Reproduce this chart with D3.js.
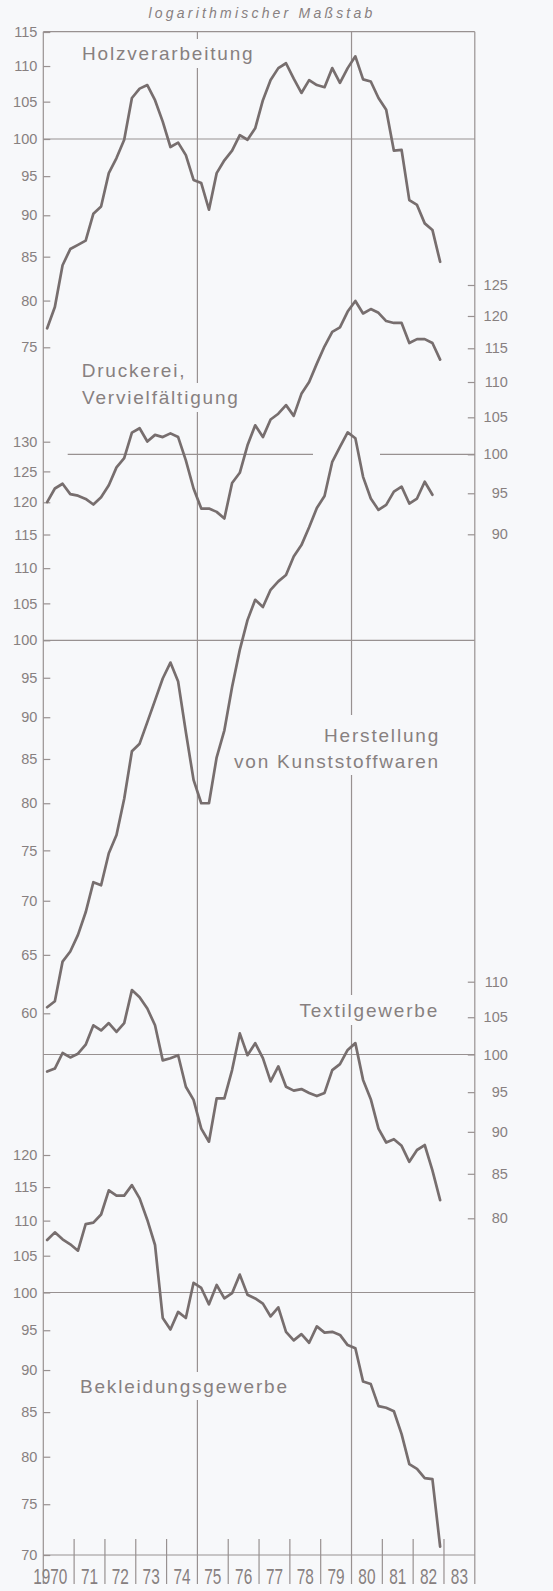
<!DOCTYPE html>
<html><head><meta charset="utf-8">
<script src="https://cdn.jsdelivr.net/npm/d3@7"></script>
<style>
html,body{margin:0;padding:0;background:#f7f8fa;}
svg{display:block;}
</style></head><body>
<svg id="c" width="553" height="1591"></svg>
<script>
// ---- data (quarterly, 1970 Q1 .. 1982 Q4) ----
const startYear = 1970;
const holz = [77.0,79.3,84.0,85.9,86.4,86.9,90.2,91.1,95.4,97.4,99.9,105.5,106.8,107.3,105.2,102.3,98.9,99.5,97.8,94.5,94.1,90.7,95.4,97.1,98.4,100.5,99.9,101.4,105.2,108.0,109.7,110.4,108.2,106.2,108.0,107.3,107.0,109.7,107.6,109.7,111.4,108.1,107.8,105.5,103.9,98.4,98.5,91.9,91.3,89.0,88.2,84.4];
const druck = [93.9,95.6,96.2,94.9,94.7,94.3,93.6,94.5,96.0,98.3,99.5,102.9,103.5,101.7,102.6,102.3,102.8,102.3,99.2,95.6,93.1,93.1,92.7,91.9,96.3,97.6,101.2,103.9,102.3,104.7,105.5,106.7,105.2,108.3,110.0,112.7,115.3,117.5,118.2,120.7,122.4,120.4,121.1,120.5,119.2,118.9,118.9,115.8,116.4,116.4,115.8,113.3];
const kunst = [60.5,61.0,64.4,65.3,66.8,68.9,71.8,71.5,74.7,76.6,80.5,85.9,86.8,89.4,92.1,94.9,97.0,94.5,88.2,82.6,80.0,80.0,85.2,88.4,93.8,98.7,102.7,105.5,104.5,106.9,108.1,109.0,111.7,113.4,116.1,119.1,121.0,126.6,129.1,131.6,130.6,124.1,120.6,118.8,119.6,121.7,122.5,119.8,120.6,123.3,121.2];
const textil = [97.7,98.1,100.2,99.6,100.1,101.3,103.9,103.2,104.2,103.0,104.2,108.8,107.8,106.2,103.9,99.2,99.5,99.9,95.7,94.0,90.4,88.8,94.2,94.2,97.9,102.8,99.9,101.5,99.5,96.4,98.4,95.7,95.2,95.4,94.9,94.5,94.9,97.9,98.7,100.6,101.5,96.6,94.1,90.4,88.7,89.1,88.3,86.4,87.8,88.4,85.4,82.0];
const bekl = [107.2,108.3,107.3,106.6,105.7,109.5,109.7,110.9,114.5,113.7,113.7,115.3,113.3,110.1,106.5,96.6,95.1,97.4,96.6,101.3,100.6,98.4,101.0,99.2,99.9,102.4,99.7,99.2,98.5,96.8,98.0,94.8,93.7,94.5,93.4,95.5,94.7,94.8,94.4,93.1,92.7,88.6,88.3,85.7,85.5,85.1,82.5,79.2,78.7,77.7,77.6,70.8];

const yearLabels = ["1970","71","72","73","74","75","76","77","78","79","80","81","82","83"];
const holzTicks = [75,80,85,90,95,100,105,110,115];
const druckTicks = [90,95,100,105,110,115,120,125];
const kunstTicks = [60,65,70,75,80,85,90,95,100,105,110,115,120,125,130];
const textilTicks = [80,85,90,95,100,105,110];
const beklTicks = [70,75,80,85,90,95,100,105,110,115,120];

const seriesLabels = {
  holz: ["Holzverarbeitung"],
  druck: ["Druckerei,", "Vervielfältigung"],
  kunst: ["Herstellung", "von Kunststoffwaren"],
  textil: ["Textilgewerbe"],
  bekl: ["Bekleidungsgewerbe"]
};
const title = "logarithmischer Maßstab";

// ---- layout ----
const W = 553, H = 1591;
const L = 43.3, R = 474.8, T = 31.7, B = 1555, BB = 1584;
const lineCol = "#776e6e", gridCol = "#989191", textCol = "#878080";
const font = "'Liberation Sans', Arial, sans-serif";

const svg = d3.select("#c");
svg.append("rect").attr("width", W).attr("height", H).attr("fill", "#f7f8fa");

const x = d3.scaleLinear().domain([1970, 1984]).range([L, R]);
const qx = i => x(startYear + (i + 0.5) / 4);

const yHolz = d3.scaleLog().domain([75, 100, 115]).range([347.3, 139, 32]);
const yDruck = d3.scaleLog().domain([90, 125]).range([534.3, 285]);
const yKunst = d3.scaleLog().domain([60, 100, 130]).range([1013.3, 640.3, 441.7]);
const yTextil = d3.scaleLog().domain([80, 100, 110]).range([1218.3, 1054.5, 981.7]);
const yBekl = d3.scaleLog().domain([70, 100, 120]).range([1555, 1292.5, 1155]);

const g = svg.append("g");
function hline(y, x1, x2) {
  g.append("line").attr("x1", x1).attr("x2", x2).attr("y1", y).attr("y2", y)
    .attr("stroke", gridCol).attr("stroke-width", 1.2);
}
function vline(xx, y1, y2) {
  g.append("line").attr("x1", xx).attr("x2", xx).attr("y1", y1).attr("y2", y2)
    .attr("stroke", gridCol).attr("stroke-width", 1.2);
}

// frame
hline(T, L, R);
vline(L, T, BB);
vline(R, T, BB);
hline(B, L, R);

// full-height year lines with gaps for labels
function gappedV(year, gaps) {
  let y0 = T;
  gaps.forEach(([a, b]) => { vline(x(year), y0, a); y0 = b; });
  vline(x(year), y0, BB);
}
gappedV(1975, [[39, 68], [383, 412], [1372, 1400]]);
gappedV(1980, [[715, 775], [995, 1025]]);

// year ticks
d3.range(1971, 1984).filter(yy => yy !== 1975 && yy !== 1980)
  .forEach(yy => vline(x(yy), 1539, BB));

// reference lines at 100
hline(yHolz(100), L, R);
hline(yDruck(100), 67.7, 313);
hline(yDruck(100), 380, R);
hline(yKunst(100), L, R);
hline(yTextil(100), L, R);
hline(yBekl(100), L, R);

// axes
function leftAxis(scale, ticks) {
  const a = svg.append("g").attr("transform", `translate(${L},0)`)
    .call(d3.axisLeft(scale).tickValues(ticks).tickFormat(d3.format("d")).tickSize(-7).tickPadding(6));
  a.select(".domain").remove();
  a.selectAll("line").attr("stroke", gridCol).attr("stroke-width", 1.2);
  a.selectAll("text").attr("fill", textCol).style("font-family", font).style("font-size", "14.5px");
}
function rightAxis(scale, ticks) {
  const a = svg.append("g").attr("transform", `translate(${R},0)`)
    .call(d3.axisRight(scale).tickValues(ticks).tickFormat(d3.format("d")).tickSize(-7).tickPadding(33));
  a.select(".domain").remove();
  a.selectAll("line").attr("stroke", gridCol).attr("stroke-width", 1.2);
  a.selectAll("text").attr("fill", textCol).attr("text-anchor", "end")
    .style("font-family", font).style("font-size", "14.5px");
}
leftAxis(yHolz, holzTicks);
rightAxis(yDruck, druckTicks);
leftAxis(yKunst, kunstTicks);
rightAxis(yTextil, textilTicks);
leftAxis(yBekl, beklTicks);

// year labels (condensed)
yearLabels.forEach((lab, i) => {
  const cx = x(1970 + i + 0.5);
  svg.append("text")
    .attr("transform", `translate(${i === 0 ? cx + 8.7 : cx},1583.5) scale(0.7,1)`)
    .attr("text-anchor", i === 0 ? "end" : "middle")
    .attr("fill", textCol).style("font-family", font).style("font-size", "22px")
    .text(lab);
});

// series lines
const series = [[holz, yHolz], [druck, yDruck], [kunst, yKunst], [textil, yTextil], [bekl, yBekl]];
series.forEach(([vals, sc]) => {
  svg.append("path").datum(vals)
    .attr("d", d3.line().x((d, i) => qx(i)).y(d => sc(d)))
    .attr("fill", "none").attr("stroke", lineCol).attr("stroke-width", 2.7)
    .attr("stroke-linejoin", "round").attr("stroke-linecap", "round");
});

// labels
function label(txt, xx, yy, anchor) {
  svg.append("text").attr("x", xx).attr("y", yy).attr("text-anchor", anchor || "start")
    .attr("fill", textCol).style("font-family", font).style("font-size", "19px")
    .style("letter-spacing", "1.8px").text(txt);
}
label(seriesLabels.holz[0], 82, 59.5);
label(seriesLabels.druck[0], 81.7, 376.7);
label(seriesLabels.druck[1], 82, 404);
label(seriesLabels.kunst[0], 440, 741.7, "end");
label(seriesLabels.kunst[1], 440, 768.3, "end");
label(seriesLabels.textil[0], 439, 1016.7, "end");
label(seriesLabels.bekl[0], 80, 1392.7);

svg.append("text").attr("x", 262).attr("y", 17.5).attr("text-anchor", "middle")
  .attr("fill", textCol).style("font-family", font).style("font-size", "14px")
  .style("font-style", "italic").style("letter-spacing", "3.2px").text(title);
</script>
</body></html>
